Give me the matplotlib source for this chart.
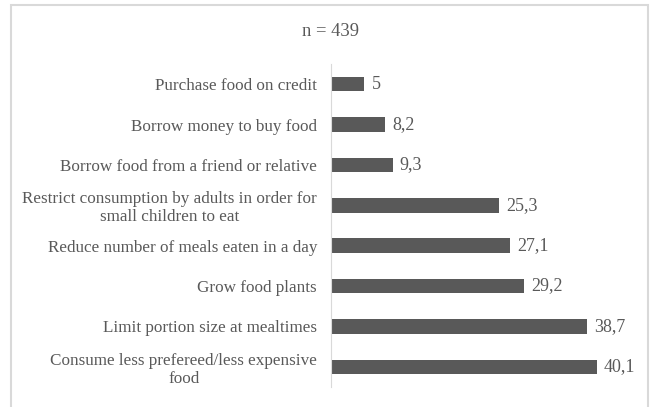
import matplotlib.pyplot as plt
from matplotlib.patches import Rectangle

# %% Data
labels = [
    "Purchase food on credit",
    "Borrow money to buy food",
    "Borrow food from a friend or relative",
    "Restrict consumption by adults in order for\nsmall children to eat",
    "Reduce number of meals eaten in a day",
    "Grow food plants",
    "Limit portion size at mealtimes",
    "Consume less prefereed/less expensive\nfood",
]
values = [5, 8.2, 9.3, 25.3, 27.1, 29.2, 38.7, 40.1]
value_text = ["5", "8,2", "9,3", "25,3", "27,1", "29,2", "38,7", "40,1"]

# %% Setup
plt.rcParams['font.family'] = ['Liberation Serif', 'DejaVu Serif']
grey = '#595959'
W, H = 652, 407

fig = plt.figure(figsize=(W / 100, H / 100), dpi=100)
ax = fig.add_axes([331 / W, 1 - 387 / H, (629 - 331) / W, (387 - 64) / H])

# outer frame
fig.patches.append(Rectangle((11 / W, -0.1), (648 - 11) / W, 1.1 - 5 / H,
                             transform=fig.transFigure, fill=False,
                             edgecolor='#d9d9d9', linewidth=1.5))

# --+ bars
pos = list(range(len(labels)))
ax.barh(pos, values, height=0.36, color=grey)
for p, v, t in zip(pos, values, value_text):
    ax.text(v + 1.1, p, t, va='center', ha='left', fontsize=13, color=grey)

# --+ axes
ax.set_ylim(len(labels) - 0.5, -0.5)
ax.set_xlim(0, 45)
ax.set_yticks(pos)
ax.set_yticklabels(labels, fontsize=12.3, color=grey, linespacing=1.15,
                   multialignment='center')
ax.tick_params(axis='y', length=0, pad=10)
ax.set_xticks([])
for s in ['top', 'right', 'bottom']:
    ax.spines[s].set_visible(False)
ax.spines['left'].set_color('#d9d9d9')

# title
fig.text(330 / W, 1 - 31 / H, "n = 439", ha='center', va='center',
         fontsize=13.4, color=grey)

fig.savefig('out.png', dpi=100)
